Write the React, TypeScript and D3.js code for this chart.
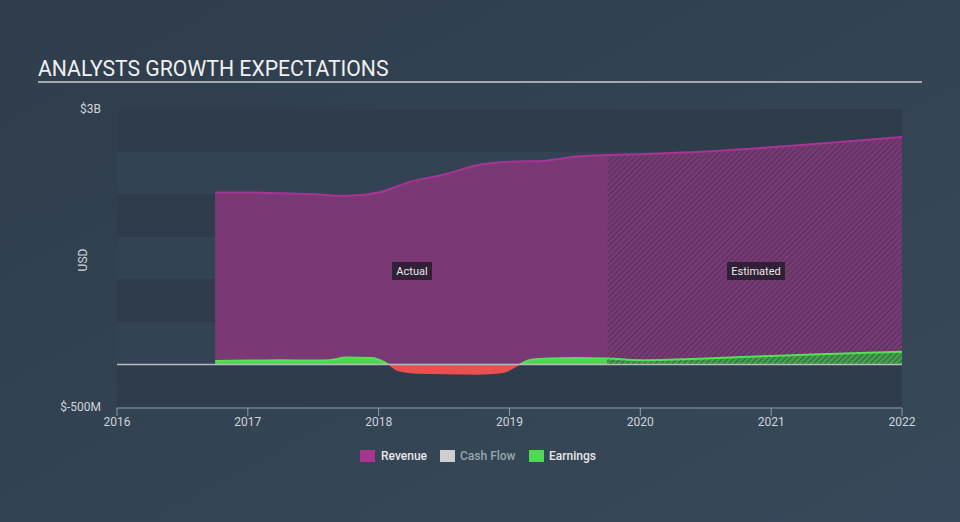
import React from "react";
import * as d3 from "d3";

const years = [2016, 2017, 2018, 2019, 2020, 2021, 2022];
const yTickLabels = ["$3B", "$-500M"];

const revenueX = [2016.75, 2017.0, 2017.25, 2017.5, 2017.75, 2018.0, 2018.25, 2018.5, 2018.75, 2019.0, 2019.25, 2019.5, 2019.75, 2020.0, 2020.5, 2021.0, 2021.5, 2022.0];
const revenueY = [2.02, 2.02, 2.01, 2.0, 1.98, 2.02, 2.15, 2.23, 2.34, 2.38, 2.39, 2.44, 2.46, 2.47, 2.5, 2.55, 2.61, 2.67];

const earningsX = [2016.75, 2017.0, 2017.25, 2017.5, 2017.62, 2017.75, 2017.95, 2018.05, 2018.15, 2018.3, 2018.5, 2018.75, 2018.95, 2019.05, 2019.15, 2019.3, 2019.5, 2019.75, 2020.0, 2020.5, 2021.0, 2021.5, 2022.0];
const earningsY = [0.04, 0.045, 0.05, 0.045, 0.05, 0.08, 0.075, 0.02, -0.08, -0.11, -0.115, -0.12, -0.1, -0.03, 0.05, 0.07, 0.075, 0.07, 0.05, 0.07, 0.1, 0.125, 0.15];

const splitX = 2019.75;

export default function App() {
  const W = 960, H = 522;
  const x = d3.scaleLinear().domain([2016, 2022]).range([117, 902]);
  const y = d3.scaleLinear().domain([-0.5, 3]).range([407, 109]);

  const rev = revenueX.map((d, i) => [d, revenueY[i]] as [number, number]);
  const earn = earningsX.map((d, i) => [d, earningsY[i]] as [number, number]);

  const areaRev = d3.area<[number, number]>().x(d => x(d[0])).y0(y(0)).y1(d => y(d[1])).curve(d3.curveMonotoneX);
  const lineRev = d3.line<[number, number]>().x(d => x(d[0])).y(d => y(d[1])).curve(d3.curveMonotoneX);
  const areaEarn = d3.area<[number, number]>().x(d => x(d[0])).y0(y(0)).y1(d => y(d[1])).curve(d3.curveMonotoneX);
  const lineEarn = lineRev;

  const bands = d3.range(-0.5, 3, 0.5);
  const xs = x(splitX);

  return (
    <svg width={W} height={H} style={{ position: "absolute", left: 0, top: 0, fontFamily: "Roboto, sans-serif" }}>
      <defs>
        <linearGradient id="bg" x1="0" y1="0" x2="1" y2="1">
          <stop offset="0" stopColor="#2f3d4c" />
          <stop offset="1" stopColor="#37495a" />
        </linearGradient>
        <pattern id="hatch" patternUnits="userSpaceOnUse" width="4" height="4" patternTransform="rotate(45)">
          <rect width="4" height="4" fill="none" />
          <line x1="0" y1="0" x2="0" y2="4" stroke="#2c3340" strokeWidth="1.6" strokeOpacity="0.75" />
        </pattern>
        <clipPath id="actualClip"><rect x={0} y={0} width={xs} height={H} /></clipPath>
        <clipPath id="estClip"><rect x={xs} y={0} width={W - xs} height={H} /></clipPath>
        <clipPath id="posClip"><rect x={0} y={0} width={W} height={y(0)} /></clipPath>
        <clipPath id="negClip"><rect x={0} y={y(0)} width={W} height={H} /></clipPath>
      </defs>
      <rect width={W} height={H} fill="url(#bg)" />
      <text x={38} y={76} fill="#f0f0f0" fontSize={21.2}>ANALYSTS GROWTH EXPECTATIONS</text>
      <line x1={38} x2={922} y1={82} y2={82} stroke="#c8ccd0" strokeWidth={1.5} />

      {bands.map((b, i) => (
        <rect key={i} x={117} width={785} y={y(b + 0.5)} height={y(b) - y(b + 0.5)}
          fill={i % 2 === 0 ? "#2e3c4b" : "#334353"} />
      ))}

      {/* revenue */}
      <path d={areaRev(rev) || ""} fill="#7a3875" />
      <g clipPath="url(#estClip)">
        <path d={areaRev(rev) || ""} fill="url(#hatch)" />
      </g>
      <path d={lineRev(rev) || ""} fill="none" stroke="#a83596" strokeWidth={2} />

      {/* earnings */}
      <g clipPath="url(#posClip)">
        <path d={areaEarn(earn) || ""} fill="#4fd44f" clipPath="url(#actualClip)" />
        <g clipPath="url(#estClip)">
          <path d={areaEarn(earn) || ""} fill="#43a04a" />
          <path d={areaEarn(earn) || ""} fill="url(#hatch)" />
        </g>
        <path d={lineEarn(earn) || ""} fill="none" stroke="#55e055" strokeWidth={2} />
      </g>
      <g clipPath="url(#negClip)">
        <path d={areaEarn(earn) || ""} fill="#e8514f" />
      </g>

      <line x1={117} x2={902} y1={y(0)} y2={y(0)} stroke="#b8bcc0" strokeWidth={1.5} />

      {/* labels */}
      <rect x={392} y={262} width={40} height={18} fill="#2a1e30" fillOpacity={0.9} />
      <text x={412} y={275} fill="#e8e8e8" fontSize={11} textAnchor="middle">Actual</text>
      <rect x={727} y={262} width={58} height={18} fill="#2a1e30" fillOpacity={0.9} />
      <text x={756} y={275} fill="#e8e8e8" fontSize={11} textAnchor="middle">Estimated</text>

      {/* y labels */}
      <text x={101} y={113} fill="#d0d4d8" fontSize={12} textAnchor="end">{yTickLabels[0]}</text>
      <text x={101} y={411} fill="#d0d4d8" fontSize={12} textAnchor="end">{yTickLabels[1]}</text>
      <text transform="translate(87,260) rotate(-90)" fill="#d0d4d8" fontSize={12} textAnchor="middle">USD</text>

      {/* x axis */}
      <line x1={117} x2={902} y1={408} y2={408} stroke="#8d9bab" strokeWidth={1} />
      {years.map(yr => (
        <g key={yr}>
          <line x1={x(yr)} x2={x(yr)} y1={408} y2={416} stroke="#8d9bab" strokeWidth={1} />
          <text x={x(yr)} y={426} fill="#d0d4d8" fontSize={12} textAnchor="middle">{yr}</text>
        </g>
      ))}

      {/* legend */}
      <rect x={360} y={450} width={15} height={12} fill="#a8368f" />
      <text x={381} y={460} fill="#e8e8e8" fontSize={12} fontWeight={500}>Revenue</text>
      <rect x={440} y={450} width={15} height={12} fill="#cfcfcf" />
      <text x={460} y={460} fill="#9aa4ae" fontSize={12} fontWeight={500}>Cash Flow</text>
      <rect x={529} y={450} width={15} height={12} fill="#4fdb4f" />
      <text x={549} y={460} fill="#e8e8e8" fontSize={12} fontWeight={500}>Earnings</text>
    </svg>
  );
}
